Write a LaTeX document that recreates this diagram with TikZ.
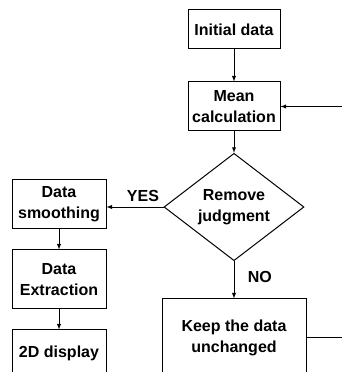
\documentclass[tikz,border=0pt]{standalone}
\usepackage{fontspec}
\setmainfont{Liberation Sans}
\usetikzlibrary{shapes.geometric, arrows}

\begin{document}
\begin{tikzpicture}[x=1pt, y=1pt, >=latex,
    every node/.style={font=\fontsize{16}{21}\selectfont\bfseries, align=center},
    box/.style={draw, line width=1pt, inner sep=0pt},
    judge/.style={draw, diamond, line width=1pt, inner sep=0pt, minimum width=140pt, minimum height=85pt},
    link/.style={->, line width=0.9pt}]
          \clip (0,0) rectangle (342,372);
          \node[box, minimum width=92pt, minimum height=39pt] (init) at (234,342.5) {Initial data};
          \node[box, minimum width=92pt, minimum height=49pt] (mean) at (234,265.5) {Mean\\calculation};
          \node[judge] (remove) at (234,165) {Remove\\judgment};
          \node[box, minimum width=94pt, minimum height=49pt] (smooth) at (59,167.5) {Data\\smoothing};
          \node[box, minimum width=94pt, minimum height=59pt] (extract) at (59,92.5) {Data\\Extraction};
          \node[box, minimum width=94pt, minimum height=46pt] (show) at (59,19) {2D display};
          \node[box, minimum width=144pt, minimum height=78pt] (keep) at (234,34) {Keep the data\\unchanged};
          \coordinate (back) at (342,265.5);
          \coordinate (out) at (342,35);

          \draw[link] (init) -- (mean);
          \draw[link] (mean) -- (remove);
          \draw[link] (remove.west) -- node[above, xshift=8pt, yshift=2pt] {YES} (remove.west -| smooth.east);
          \draw[link] (remove.south) -- node[right, xshift=10pt, yshift=3pt] {NO} (keep.north);
          \draw[link] (smooth) -- (extract);
          \draw[link] (extract) -- (show);
          \draw[line width=0.9pt] (out -| keep.east) -- (out);
          \draw[link] (back) -- (mean.east);
    \end{tikzpicture}
\end{document}
